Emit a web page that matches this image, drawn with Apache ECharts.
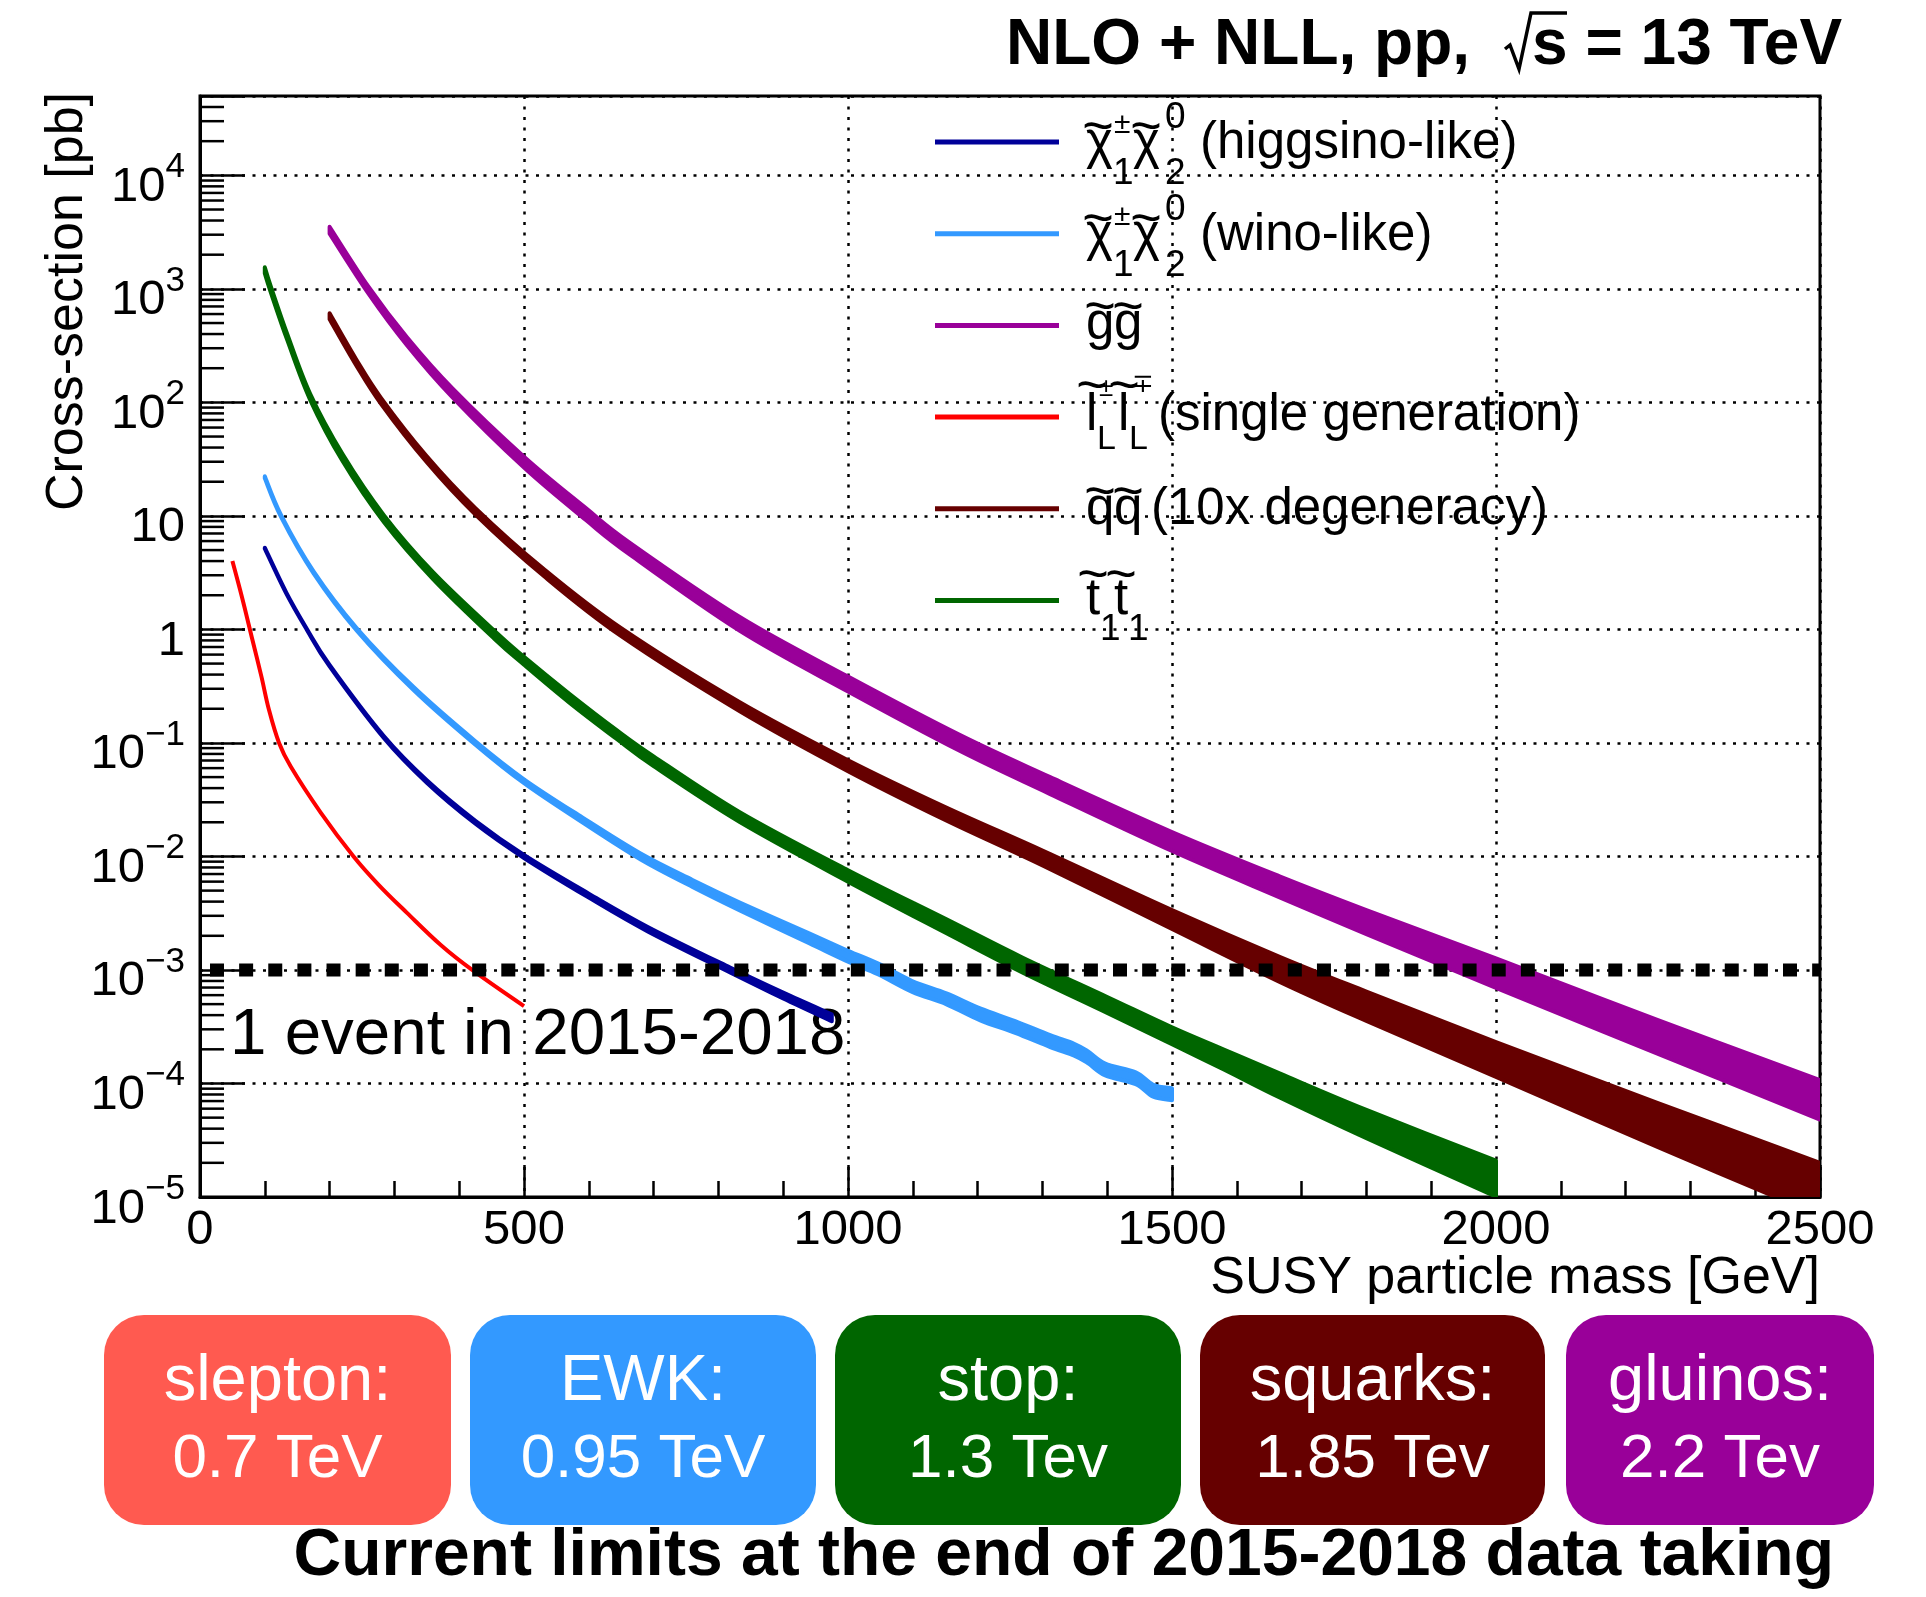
<!DOCTYPE html>
<html>
<head>
<meta charset="utf-8">
<title>SUSY production cross-sections, pp at 13 TeV</title>
<script src="https://cdn.jsdelivr.net/npm/echarts@6.0.0/dist/echarts.min.js"></script>
<style>
  html, body { margin: 0; padding: 0; background: #fff; }
  #chart { width: 1926px; height: 1597px; }
</style>
</head>
<body>
<div id="chart"></div>
<script>
// Cross-sections [pb] against sparticle mass [GeV]; *Unc = relative half-width of the band.

// chargino-neutralino, higgsino-like
const higgsinoMass = [100, 133, 165, 200, 284, 350, 425, 500, 600, 691, 818, 900, 975];
const higgsinoXsec = [5.2, 2.1, 1.0, 0.479, 0.112, 0.0457, 0.02, 0.01, 0.00452, 0.00229, 0.001, 0.000596, 0.00038];
const higgsinoUnc  = [0.01, 0.01, 0.01, 0.015, 0.02, 0.025, 0.03, 0.03, 0.04, 0.045, 0.05, 0.06, 0.07];

// chargino-neutralino, wino-like
const winoMass = [100, 125, 175, 242, 330, 425, 500, 590, 680, 760, 833, 940, 1000, 1046, 1099, 1152, 1205, 1258, 1312, 1349, 1370, 1397, 1444, 1471, 1500];
const winoXsec = [21.9, 10, 3.2, 1.0, 0.3, 0.1, 0.046, 0.021, 0.01, 0.0058, 0.00364, 0.00191, 0.00133, 0.00103, 0.00072, 0.00056, 0.000407, 0.000317, 0.000238, 0.0002, 0.000172, 0.000134, 0.000112, 0.000087, 0.000081];
const winoUnc  = [0.02, 0.02, 0.02, 0.025, 0.03, 0.035, 0.04, 0.05, 0.06, 0.07, 0.08, 0.1, 0.11, 0.11, 0.11, 0.11, 0.12, 0.12, 0.12, 0.12, 0.12, 0.12, 0.12, 0.12, 0.12];

// gluino pair
const gluinoMass = [200, 260, 320, 390, 500, 595, 664, 833, 1000, 1173, 1312, 1500, 1667, 1800, 2000, 2250, 2500];
const gluinoXsec = [3296, 977, 343, 121, 29.9, 10.5, 5.15, 1.13, 0.334, 0.101, 0.0427, 0.0138, 0.0055, 0.00272, 0.00098, 0.000272, 0.0000776];
const gluinoUnc  = [0.07, 0.07, 0.08, 0.09, 0.11, 0.12, 0.12, 0.14, 0.15, 0.16, 0.17, 0.19, 0.21, 0.24, 0.29, 0.33, 0.38];

// left-handed slepton pair, one generation
const sleptonMass = [50, 65, 80, 95, 106, 122, 140, 186, 237, 276, 319, 372, 420, 500];
const sleptonXsec = [4.0, 1.9, 0.85, 0.38, 0.2, 0.1, 0.062, 0.0245, 0.01, 0.0056, 0.0032, 0.00165, 0.001, 0.00048];

// squark pair, 10x degenerate
const squarkMass = [200, 240, 279, 350, 425, 531, 650, 833, 1000, 1150, 1301, 1500, 1667, 1800, 2000, 2250, 2500];
const squarkXsec = [575, 231, 104, 31.6, 11.0, 3.16, 0.948, 0.209, 0.0634, 0.0241, 0.00975, 0.00283, 0.00104, 0.0005, 0.000173, 0.0000474, 0.0000134];
const squarkUnc  = [0.06, 0.06, 0.06, 0.06, 0.065, 0.07, 0.08, 0.09, 0.11, 0.13, 0.15, 0.19, 0.25, 0.29, 0.34, 0.42, 0.49];

// stop pair
const stopMass = [100, 109, 135, 170, 220, 284, 360, 455, 500, 570, 643, 700, 833, 1000, 1152, 1269, 1400, 1500, 1580, 1667, 1800, 2000];
const stopXsec = [1459, 1002, 372, 112, 32.7, 9.44, 2.97, 0.891, 0.531, 0.249, 0.119, 0.0693, 0.0223, 0.00678, 0.00245, 0.00112, 0.000498, 0.000267, 0.000166, 0.0000984, 0.0000457, 0.0000155];
const stopUnc  = [0.06, 0.06, 0.06, 0.06, 0.07, 0.07, 0.07, 0.08, 0.08, 0.09, 0.09, 0.1, 0.1, 0.115, 0.14, 0.15, 0.16, 0.17, 0.2, 0.24, 0.28, 0.35];

// one produced event in the 2015-2018 dataset
const oneEventXsec = 1e-3;

// axes
const xTickValues = [0, 500, 1000, 1500, 2000, 2500];
const yTickExponents = [-5, -4, -3, -2, -1, 0, 1, 2, 3, 4];

// summary boxes
const limitNames  = ['slepton:', 'EWK:', 'stop:', 'squarks:', 'gluinos:'];
const limitValues = ['0.7 TeV', '0.95 TeV', '1.3 Tev', '1.85 Tev', '2.2 Tev'];

// ---------------------------------------------------------------------------
const FONT = '"Liberation Sans", Arial, Helvetica, sans-serif';
const COLORS = {
  higgsino: '#000099', wino: '#3399ff', gluino: '#990099',
  slepton: '#ff0000', squark: '#660000', stop: '#006600'
};
const BOX_COLORS = ['#ff5a50', '#3399ff', '#006600', '#660000', '#990099'];
const K = 0.3465; // distance from the em-middle to the alphabetic baseline, in em

function label(x, base, text, size, extra) {
  return {
    type: 'text', x: x, y: base - K * size, silent: true,
    style: Object.assign({
      text: text, fontFamily: FONT, fontSize: size, fill: '#000',
      align: 'left', verticalAlign: 'middle'
    }, extra || {})
  };
}
function tilde(cx, cy) {
  return {
    type: 'text', x: cx, y: cy, silent: true,
    style: { text: '~', fontFamily: FONT, fontSize: 54, fill: '#000', align: 'center', verticalAlign: 'middle' }
  };
}
function sample(y, color) {
  return { type: 'line', silent: true, shape: { x1: 935, y1: y, x2: 1059, y2: y }, style: { stroke: color, lineWidth: 5 } };
}

// Catmull-Rom segments through pixel points (the path is assumed to sit at pts[0])
function splineSegments(pts) {
  let d = '';
  for (let i = 0; i < pts.length - 1; i++) {
    const p0 = pts[Math.max(i - 1, 0)], p1 = pts[i], p2 = pts[i + 1], p3 = pts[Math.min(i + 2, pts.length - 1)];
    const c1 = [p1[0] + (p2[0] - p0[0]) / 6, p1[1] + (p2[1] - p0[1]) / 6];
    const c2 = [p2[0] - (p3[0] - p1[0]) / 6, p2[1] - (p3[1] - p1[1]) / 6];
    d += ' C' + c1[0] + ',' + c1[1] + ' ' + c2[0] + ',' + c2[1] + ' ' + p2[0] + ',' + p2[1];
  }
  return d;
}

// filled uncertainty band between xsec*(1-unc) and xsec*(1+unc)
function bandSeries(name, mass, xsec, unc, color) {
  return {
    name: name, type: 'custom', silent: true, clip: true, z: 2,
    data: mass.map((m, i) => [m, xsec[i] * (1 - unc[i]), xsec[i] * (1 + unc[i])]),
    renderItem: function (params, api) {
      if (params.dataIndex !== 0) return null;
      const n = params.dataInsideLength;
      const up = [], lo = [];
      for (let i = 0; i < n; i++) {
        up.push(api.coord([api.value(0, i), api.value(2, i)]));
        lo.push(api.coord([api.value(0, i), api.value(1, i)]));
      }
      lo.reverse();
      const d = 'M' + up[0][0] + ',' + up[0][1] + splineSegments(up) +
                ' L' + lo[0][0] + ',' + lo[0][1] + splineSegments(lo) + ' Z';
      return {
        type: 'path', shape: { pathData: d },
        style: { fill: color, stroke: color, lineWidth: 4, lineJoin: 'round' }
      };
    }
  };
}

const yMinorTicks = [];
yTickExponents.forEach(e => {
  for (let k = 2; k <= 9; k++) {
    const v = k * Math.pow(10, e);
    if (v < 5e4) yMinorTicks.push([0, v]);
  }
});

function yLabel(v) {
  const lv = Math.log10(v);
  const e = Math.round(lv);
  if (Math.abs(lv - e) > 1e-6 || yTickExponents.indexOf(e) < 0) return '';
  if (e === 0) return '{b|1}';
  if (e === 1) return '{b|10}';
  return '{b|10}{s|' + (e < 0 ? '\u2212' + (-e) : String(e)) + '}';
}

// ---------------------------------------------------------------------------
const graphics = [];

// title
graphics.push(label(1470, 69, 'NLO + NLL, pp,', 64, { fontWeight: 'bold', align: 'right' }));
graphics.push({ type: 'polyline', silent: true,
  shape: { points: [[1505, 49], [1510, 45], [1519, 69], [1531, 13], [1567, 13]] },
  style: { stroke: '#000', lineWidth: 3.5, fill: null } });
graphics.push(label(1532, 69, 's = 13 TeV', 64, { fontWeight: 'bold' }));

// axis titles
graphics.push({ type: 'text', x: 68, y: 92, rotation: Math.PI / 2, silent: true,
  style: { text: 'Cross-section [pb]', fontFamily: FONT, fontSize: 52, fill: '#000', align: 'right', verticalAlign: 'middle' } });
graphics.push(label(1820, 1297, 'SUSY particle mass [GeV]', 52, { align: 'right' }));

// legend
const F = 51, S = 37;
const rowY = [142, 233.7, 325.4, 417, 508.7, 600.4];
const rowKeys = ['higgsino', 'wino', 'gluino', 'slepton', 'squark', 'stop'];
rowY.forEach((y, i) => graphics.push(sample(y, COLORS[rowKeys[i]])));

[[rowY[0] + 20, '(higgsino-like)'], [rowY[1] + 20, '(wino-like)']].forEach(([b, txt]) => {
  graphics.push(label(1086, b, '\u03c7', F), tilde(1098, b - 33));
  graphics.push(label(1114, b - 27, '\u00b1', 30), label(1113, b + 25, '1', S));
  graphics.push(label(1133, b, '\u03c7', F), tilde(1146, b - 33));
  graphics.push(label(1165, b - 31, '0', S), label(1165, b + 25, '2', S));
  graphics.push(label(1200, b, txt, F));
});
{ const b = rowY[2] + 17.6;
  graphics.push(label(1086, b, 'g', F), label(1114, b, 'g', F), tilde(1100, b - 34), tilde(1128, b - 34)); }
{ const b = rowY[3] + 17;
  graphics.push(label(1086, b, 'l', F), label(1097, b + 17, 'L', 34), label(1118, b, 'l', F), label(1129, b + 17, 'L', 34));
  graphics.push(tilde(1092, b - 46), tilde(1124, b - 46));
  graphics.push(label(1099, b - 36, '\u00b1', 26), label(1132, b - 40, '\u2213', 26));
  graphics.push(label(1158, b, '(single generation)', F)); }
{ const b = rowY[4] + 18.5;
  graphics.push(label(1086, b, 'q', F), label(1114, b, 'q', F), tilde(1100, b - 33), tilde(1128, b - 33));
  graphics.push(label(1151, b, '(10x degeneracy)', F)); }
{ const b = rowY[5] + 17;
  graphics.push(label(1086, b, 't', F), label(1100, b + 25, '1', S), label(1114, b, 't', F), label(1128, b + 25, '1', S));
  graphics.push(tilde(1093, b - 40), tilde(1121, b - 40)); }

// one-event annotation
graphics.push(label(230, 1059, '1 event in 2015-2018', 65.5));

// limit boxes
const boxX = [104, 470, 835, 1200, 1566];
const boxW = [347, 346, 346, 345, 308];
limitNames.forEach((n, i) => {
  const cx = boxX[i] + boxW[i] / 2;
  graphics.push({ type: 'rect', silent: true, shape: { x: boxX[i], y: 1315, width: boxW[i], height: 210, r: 40 }, style: { fill: BOX_COLORS[i] } });
  graphics.push(label(cx, 1405, n, 65, { fill: '#fff', align: 'center' }));
  graphics.push(label(cx, 1481, limitValues[i], 62, { fill: '#fff', align: 'center' }));
});
graphics.push(label(1834, 1580, 'Current limits at the end of 2015-2018 data taking', 66, { fontWeight: 'bold', align: 'right' }));

// ---------------------------------------------------------------------------
const series = [
  bandSeries('gluino', gluinoMass, gluinoXsec, gluinoUnc, COLORS.gluino),
  bandSeries('squark', squarkMass, squarkXsec, squarkUnc, COLORS.squark),
  bandSeries('stop', stopMass, stopXsec, stopUnc, COLORS.stop),
  bandSeries('wino', winoMass, winoXsec, winoUnc, COLORS.wino),
  bandSeries('higgsino', higgsinoMass, higgsinoXsec, higgsinoUnc, COLORS.higgsino),
  {
    name: 'slepton', type: 'line', symbol: 'none', silent: true, smooth: 0.35,
    data: sleptonMass.map((m, i) => [m, sleptonXsec[i]]),
    lineStyle: { color: COLORS.slepton, width: 4 }, z: 2
  }, {
    name: 'one-event', type: 'line', symbol: 'none', silent: true,
    data: [[xTickValues[0], oneEventXsec], [xTickValues[xTickValues.length - 1], oneEventXsec]],
    lineStyle: { color: '#000', width: 13, type: [14, 15.13], dashOffset: 19.13, cap: 'butt' }, z: 4
  }, {
    name: 'y-minor-ticks', type: 'custom', silent: true, z: 4, clip: false,
    data: yMinorTicks,
    renderItem: function (params, api) {
      const p = api.coord([0, api.value(1)]);
      return { type: 'line', shape: { x1: p[0], y1: p[1], x2: p[0] + 24, y2: p[1] }, style: { stroke: '#000', lineWidth: 2.5 } };
    }
  }
];

const option = {
  animation: false,
  backgroundColor: '#fff',
  textStyle: { fontFamily: FONT },
  grid: { left: 200, top: 96, width: 1620, height: 1101, show: true, borderColor: '#000', borderWidth: 3, backgroundColor: 'transparent' },
  xAxis: {
    type: 'value', min: xTickValues[0], max: xTickValues[xTickValues.length - 1], interval: 500,
    axisLine: { show: true, onZero: false, lineStyle: { color: '#000', width: 3 } },
    axisTick: { show: true, inside: true, length: 32, lineStyle: { color: '#000', width: 2.5 } },
    minorTick: { show: true, splitNumber: 5, length: 16, lineStyle: { color: '#000', width: 2.5 } },
    axisLabel: { color: '#000', fontSize: 49, fontFamily: FONT, margin: 9, formatter: v => String(v) },
    splitLine: { show: true, lineStyle: { color: '#000', width: 2.5, type: [3, 7.5] } }
  },
  yAxis: {
    type: 'log', logBase: 10, min: 1e-5, max: 5e4, splitNumber: 10,
    axisLine: { show: true, lineStyle: { color: '#000', width: 3 } },
    axisTick: { show: true, inside: true, length: 45, lineStyle: { color: '#000', width: 2.5 } },
    splitLine: { show: true, lineStyle: { color: '#000', width: 2.5, type: [3, 7.5] } },
    axisLabel: {
      color: '#000', margin: 15, formatter: yLabel, padding: [11, 0, 0, 0],
      rich: {
        b: { fontSize: 49, fontFamily: FONT, color: '#000', lineHeight: 62, verticalAlign: 'bottom' },
        s: { fontSize: 35, fontFamily: FONT, color: '#000', lineHeight: 35, verticalAlign: 'top' }
      }
    }
  },
  graphic: { elements: graphics },
  series: series
};

const chart = echarts.init(document.getElementById('chart'), null, { renderer: 'canvas' });
chart.setOption(option);
</script>
</body>
</html>
